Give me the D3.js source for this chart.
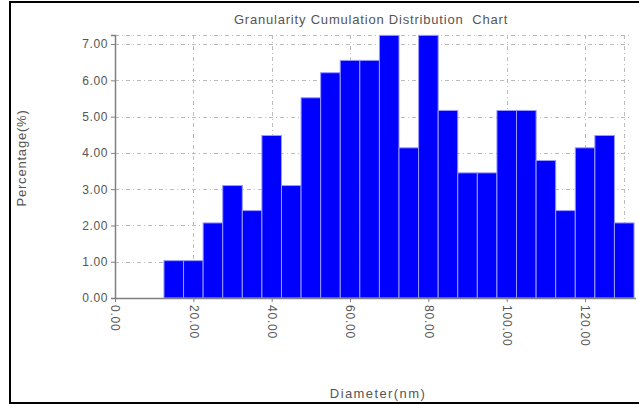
<!DOCTYPE html>
<html>
<head>
<meta charset="utf-8">
<script src="https://cdn.jsdelivr.net/npm/d3@7/dist/d3.min.js"></script>
<style>
  html, body { margin: 0; padding: 0; background: #fff; }
  svg { display: block; }
  text { font-family: Arial, "Liberation Sans", sans-serif; white-space: pre; }
</style>
</head>
<body>
<svg id="chart" width="639" height="405"></svg>
<script>
// Data
const binCenters = [15,20,25,30,35,40,45,50,55,60,65,70,75,80,85,90,95,100,105,110,115,120,125,130];
const percentages = [1.03,1.03,2.07,3.10,2.41,4.48,3.10,5.52,6.21,6.55,6.55,7.24,4.14,7.24,5.17,3.45,3.45,5.17,5.17,3.79,2.41,4.14,4.48,2.07];
const binWidth = 5;
const xTicks = [0,20,40,60,80,100,120];
const xGrid = [20,40,60,80,100,120,130];
const yTicks = [0,1,2,3,4,5,6,7];
const title = "Granularity Cumulation Distribution  Chart";
const xTitle = "Diameter(nm)";
const yTitle = "Percentage(%)";

const svg = d3.select("#chart");

// Outer frame
svg.append("rect").attr("x", 10).attr("y", 2).attr("width", 640).attr("height", 401)
  .attr("fill", "none").attr("stroke", "#000").attr("stroke-width", 2);

const x = d3.scaleLinear().domain([0, 133]).range([115, 636]);
const y = d3.scaleLinear().domain([0, 7.25]).range([298, 35]);

// Gridlines
const grid = svg.append("g").attr("stroke", "#bdbdbd").attr("stroke-width", 1)
  .attr("stroke-dasharray", "4,3,1,3");
grid.selectAll("line.h").data(yTicks.slice(1).concat([7.25])).join("line")
  .attr("x1", x(0)).attr("x2", 632)
  .attr("y1", d => Math.round(y(d)) + 0.5).attr("y2", d => Math.round(y(d)) + 0.5);
grid.selectAll("line.v").data(xGrid).join("line")
  .attr("x1", d => Math.round(x(d)) + 0.5).attr("x2", d => Math.round(x(d)) + 0.5)
  .attr("y1", y(7.25)).attr("y2", y(0));

// Bars
svg.append("g").selectAll("rect").data(percentages).join("rect")
  .attr("x", (d, i) => x(binCenters[i] - binWidth / 2))
  .attr("width", (d, i) => x(binCenters[i] + binWidth / 2) - x(binCenters[i] - binWidth / 2))
  .attr("y", d => y(Math.min(d, 7.25)))
  .attr("height", d => y(0) - y(Math.min(d, 7.25)))
  .attr("fill", "#0000ff")
  .attr("stroke", "#9a9aff")
  .attr("stroke-width", 1);

// Y axis
const yAxis = d3.axisLeft(y).tickValues(yTicks).tickFormat(d3.format(".2f")).tickSize(4).tickPadding(3);
const gy = svg.append("g").attr("transform", `translate(${x(0)},0)`).call(yAxis);
gy.select(".domain").attr("stroke", "#808080").attr("stroke-width", 1.5);
gy.selectAll(".tick line").attr("stroke", "#808080");
gy.selectAll(".tick text").attr("fill", "#555").attr("font-size", 12).attr("letter-spacing", 0.6);

// X axis
const xAxis = d3.axisBottom(x).tickValues(xTicks).tickFormat(d3.format(".2f")).tickSize(4).tickPadding(2);
const gx = svg.append("g").attr("transform", `translate(0,${y(0)})`).call(xAxis);
gx.select(".domain").attr("stroke", "#808080").attr("stroke-width", 1.5)
  .attr("d", `M${x(0)},0.5H${x(133)}`);
gx.selectAll(".tick line").attr("stroke", "#808080");
gx.selectAll(".tick text").attr("fill", "#555").attr("font-size", 12).attr("letter-spacing", 0.8)
  .attr("transform", "rotate(90)")
  .attr("text-anchor", "start")
  .attr("x", 7).attr("y", 0).attr("dy", "0.35em");

// Titles
svg.append("text").attr("x", 371).attr("y", 24).attr("text-anchor", "middle")
  .attr("font-size", 13).attr("letter-spacing", 0.8).attr("fill", "#555").text(title);
svg.append("text").attr("x", 378).attr("y", 398).attr("text-anchor", "middle")
  .attr("font-size", 13).attr("letter-spacing", 1.4).attr("fill", "#555").text(xTitle);
svg.append("text").attr("transform", "translate(26,158) rotate(-90)").attr("text-anchor", "middle")
  .attr("font-size", 13).attr("letter-spacing", 0.8).attr("fill", "#555").text(yTitle);
</script>
</body>
</html>
